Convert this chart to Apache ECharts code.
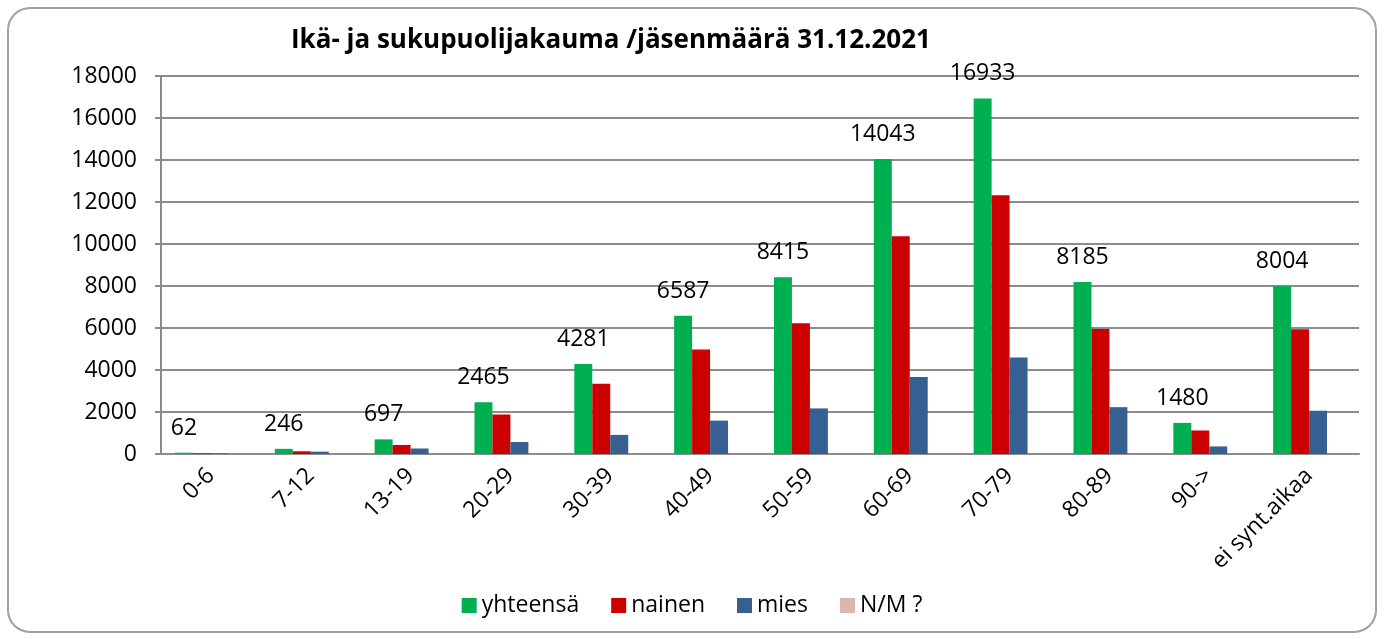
<!DOCTYPE html>
<html>
<head>
<meta charset="utf-8">
<script src="https://cdn.jsdelivr.net/npm/echarts@6/dist/echarts.min.js"></script>
<style>
  html, body { margin: 0; padding: 0; background: #fff; }
  #app { width: 1384px; height: 639px; }
</style>
</head>
<body>
<div id="app"></div>
<script>
// ikäryhmät
const categories = ['0-6', '7-12', '13-19', '20-29', '30-39', '40-49', '50-59', '60-69', '70-79', '80-89', '90->', 'ei synt.aikaa']
const yhteensa = [62, 246, 697, 2465, 4281, 6587, 8415, 14043, 16933, 8185, 1480, 8004]
const nainen = [32, 130, 430, 1880, 3350, 4980, 6230, 10370, 12320, 5950, 1120, 5940]
const mies = [28, 112, 262, 570, 910, 1590, 2170, 3670, 4600, 2230, 360, 2060]
const nm = [0, 0, 0, 0, 0, 0, 0, 0, 0, 0, 0, 0]
const yTicks = [0, 18000, 2000]  // min, max, interval

const font = '"Open Sans", sans-serif'
const grey = '#8c8c8c'

const myCharts = echarts.init(document.getElementById('app'))

const option = {
    animation: false,
    textStyle: { fontFamily: font },
    title: {
        text: 'Ikä- ja sukupuolijakauma /jäsenmäärä 31.12.2021',
        left: 286,
        top: 23,
        textStyle: { fontFamily: font, fontSize: 26, fontWeight: 'bold', color: '#000' }
    },
    legend: {
        bottom: 17,
        left: 'center',
        itemWidth: 15,
        itemHeight: 15,
        itemGap: 32,
        icon: 'rect',
        textStyle: { fontFamily: font, fontSize: 23, color: '#000' }
    },
    grid: { left: 161, right: 25, top: 76, bottom: 185 },
    xAxis: {
        type: 'category',
        data: categories,
        axisLine: { lineStyle: { color: grey, width: 2 } },
        axisTick: { length: 8, lineStyle: { color: grey, width: 2 } },
        axisLabel: { rotate: 45, margin: 18, fontSize: 23, color: '#000', fontFamily: font, interval: 0 }
    },
    yAxis: {
        type: 'value',
        min: yTicks[0],
        max: yTicks[1],
        interval: yTicks[2],
        axisLine: { show: true, lineStyle: { color: grey, width: 2 } },
        axisTick: { show: true, length: 6, lineStyle: { color: grey, width: 2 } },
        splitLine: { lineStyle: { color: grey, width: 2 } },
        axisLabel: { margin: 24, fontSize: 23, color: '#000', fontFamily: font, formatter: v => String(v) }
    },
    graphic: [{
        type: 'rect',
        shape: { x: 8, y: 8, width: 1368, height: 624, r: 22 },
        style: { fill: 'none', stroke: '#a0a0a0', lineWidth: 2 },
        silent: true
    }],
    series: [
        {
            name: 'yhteensä', type: 'bar', data: yhteensa, barGap: 0, barCategoryGap: '28%',
            itemStyle: { color: '#00b050' },
            label: { show: true, position: 'top', distance: 13, fontSize: 23, color: '#000', fontFamily: font }
        },
        { name: 'nainen', type: 'bar', data: nainen, itemStyle: { color: '#cc0000' } },
        { name: 'mies', type: 'bar', data: mies, itemStyle: { color: '#376092' } },
        { name: 'N/M ?', type: 'bar', data: nm, itemStyle: { color: '#ddb5b5' } }
    ]
}

myCharts.setOption(option)
</script>
</body>
</html>
